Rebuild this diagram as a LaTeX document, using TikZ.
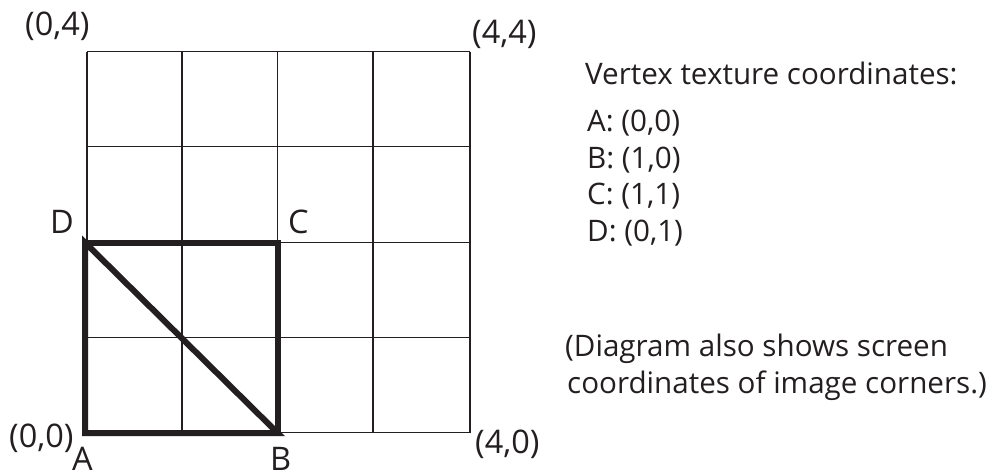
\documentclass[tikz,border=0pt]{standalone}
\usepackage{fontspec}
\setmainfont{Open Sans}
\definecolor{ink}{HTML}{231F20}
\begin{document}
\begin{tikzpicture}[x=1pt,y=-1pt,
  side/.style={anchor=base west,inner sep=0pt,text=ink,font=\fontsize{29.6}{34}\selectfont},
  lbl/.style={anchor=base west,inner sep=0pt,text=ink,font=\fontsize{32.5}{36}\selectfont},
  gridline/.style={draw=ink,line width=1.3pt},
  thick/.style={draw=ink,line width=6pt,line join=miter}]
\useasboundingbox[fill=white] (0,0) rectangle (993,474);
% grid coordinates
\foreach \i/\x in {0/87,1/182,2/277.7,3/373,4/470}{
  \coordinate (gx\i) at (\x,0);}
\foreach \j/\y in {0/432.7,1/337.3,2/242.5,3/146.7,4/51.7}{
  \coordinate (gy\j) at (0,\y);}
\foreach \i in {0,...,4}{
  \draw[gridline] (gx\i |- gy0) -- (gx\i |- gy4);
  \draw[gridline] (gx0 |- gy\i) -- (gx4 |- gy\i);}
% thick quad
\coordinate (A) at (85,433);
\coordinate (B) at (277.7,433);
\coordinate (C) at (277.7,242.5);
\coordinate (D) at (85,242.5);
\draw[thick] (A) -- (D) -- (B) -- cycle;
\draw[thick] (D) -- (C) -- (B);
% corner labels
\node[lbl] (l04) at (25,35) {(0,4)};
\node[lbl] (l44) at (472,43) {(4,4)};
\node[lbl] (l00) at (9,447) {(0,0)};
\node[lbl] (l40) at (475,453) {(4,0)};
\node[lbl] (lD) at (50,233) {D};
\node[lbl] (lC) at (288,233) {C};
\node[lbl] (lA) at (72,470.5) {A};
\node[lbl] (lB) at (270,470.5) {B};
% side text
\node[side] (t0) at (585,84) {Vertex texture coordinates:};
\node[side] (t1) at (587,131.7) {A: (0,0)};
\node[side] (t2) at (587,168.2) {B: (1,0)};
\node[side] (t3) at (587,204.7) {C: (1,1)};
\node[side] (t4) at (587,241.2) {D: (0,1)};
\node[side] (n1) at (565,356.7) {(Diagram also shows screen};
\node[side] (n2) at (567,393) {coordinates of image corners.)};
\end{tikzpicture}
\end{document}
